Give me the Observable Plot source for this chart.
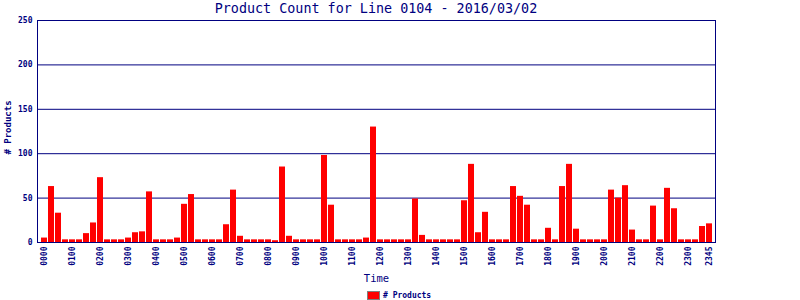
<!DOCTYPE html>
<html><head><meta charset="utf-8">
<script src="https://cdn.jsdelivr.net/npm/d3@7"></script>
<script src="https://cdn.jsdelivr.net/npm/@observablehq/plot@0.6"></script>
<style>
body{margin:0;background:#fff;width:800px;height:300px;overflow:hidden;font-family:"DejaVu Sans Mono",monospace;color:#000080;position:relative}
#title{position:absolute;left:0;top:0;width:752px;height:18px;line-height:17px;text-align:center;font-size:13.4px;white-space:nowrap;z-index:2}
#chart{position:absolute;left:0;top:0}
#legend{position:absolute;left:367px;top:291px;height:9px;display:flex;align-items:center;font-size:8px;font-weight:bold;white-space:nowrap}
#legend .sw{width:11px;height:7px;background:#ff0000;border:1px solid #808080;margin-right:3px}
</style></head>
<body>
<div id="chart"></div>
<div id="title">Product Count for Line 0104 - 2016/03/02</div>
<div id="legend"><span class="sw"></span><span># Products</span></div>
<script>
const times = ["0000","0015","0030","0045","0100","0115","0130","0145","0200","0215","0230","0245",
"0300","0315","0330","0345","0400","0415","0430","0445","0500","0515","0530","0545",
"0600","0615","0630","0645","0700","0715","0730","0745","0800","0815","0830","0845",
"0900","0915","0930","0945","1000","1015","1030","1045","1100","1115","1130","1145",
"1200","1215","1230","1245","1300","1315","1330","1345","1400","1415","1430","1445",
"1500","1515","1530","1545","1600","1615","1630","1645","1700","1715","1730","1745",
"1800","1815","1830","1845","1900","1915","1930","1945","2000","2015","2030","2045",
"2100","2115","2130","2145","2200","2215","2230","2245","2300","2315","2330","2345"];
const products = [5,63,33,3,3,3,10,22,73,3,3,3,
5,11,12,57,3,3,3,5,43,54,3,3,
3,3,20,59,7,3,3,3,3,2,85,7,
3,3,3,3,98,42,3,3,3,3,5,130,
3,3,3,3,3,49,8,3,3,3,3,3,
47,88,11,34,3,3,3,63,52,42,3,3,
16,3,63,88,15,3,3,3,3,59,50,64,
14,3,3,41,3,61,38,3,3,3,18,21];
const tickLabels = ["0000","0100","0200","0300","0400","0500","0600","0700","0800","0900","1000","1100",
"1200","1300","1400","1500","1600","1700","1800","1900","2000","2100","2200","2300","2345"];
const yTicks = [0,50,100,150,200,250];
const gridValues = [50,100,150,200];

const data = times.map((t,i)=>({t, v: products[i]}));
const navy = "#000080";
const chart = Plot.plot({
  width: 800, height: 286,
  marginTop: 20, marginLeft: 37, marginRight: 85, marginBottom: 44,
  style: {fontFamily: "'DejaVu Sans Mono', monospace", color: navy, background: "white"},
  x: {type: "band", domain: times, range: [41, 713], paddingInner: 0.14, paddingOuter: 0},
  y: {domain: [0, 250]},
  marks: [
    Plot.ruleY(gridValues, {stroke: navy}),
    Plot.barY(data, {x: "t", y: "v", fill: "#ff0000"}),
    Plot.frame({stroke: navy}),
    Plot.axisY({ticks: yTicks, tickSize: 0, tickPadding: 5, fontSize: 8, fontWeight: "bold", label: null, fill: navy}),
    Plot.axisX({ticks: tickLabels, tickSize: 0, tickPadding: 4, tickRotate: -90, fontSize: 8, fontWeight: "bold", label: null, fill: navy}),
    Plot.text(["Time"], {frameAnchor: "bottom", dy: 36, lineAnchor: "middle", fontSize: 10.5, fill: navy}),
    Plot.text(["# Products"], {frameAnchor: "left", dx: -29, dy: -4, rotate: -90, textAnchor: "middle", lineAnchor: "middle", fontSize: 9, fontWeight: "bold", fill: navy})
  ]
});
document.getElementById("chart").appendChild(chart);
</script>
</body></html>
